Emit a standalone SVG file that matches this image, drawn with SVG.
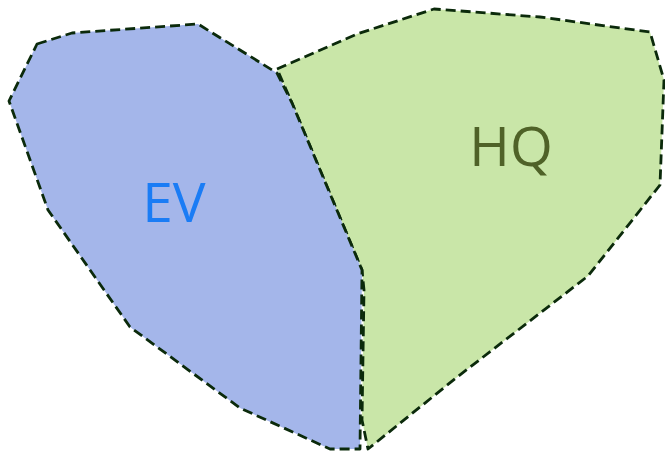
<svg xmlns="http://www.w3.org/2000/svg" width="665" height="452" viewBox="0 0 665 452">
<style>
.b{stroke:#0b2a0b;stroke-width:2.8;stroke-dasharray:10 5;stroke-linejoin:round}
.t{font-family:"Open Sans","Noto Sans",sans-serif;font-size:55px}
</style>
<rect width="665" height="452" fill="#fff"/>
<g id="HQ">
<polygon class="b" fill="#c9e6a8" points="277,69 357,34 434,9 540,17 650,32 664,80 660,185 588,276 456,378 368,449 362,420 364,290 362,270 292,103"/>
<text class="t" x="511" y="166" text-anchor="middle" fill="#4f6228">HQ</text>
</g>
<g id="EV">
<polygon class="b" fill="#a4b6ea" points="37,44 72,33 198,24 277,73 292,103 362,270 360,449 330,449 240,408 130,327 48,210 9,101"/>
<text class="t" x="174" y="222" text-anchor="middle" fill="#1a7cf5">EV</text>
</g>
<g id="connectors"/>
</svg>
